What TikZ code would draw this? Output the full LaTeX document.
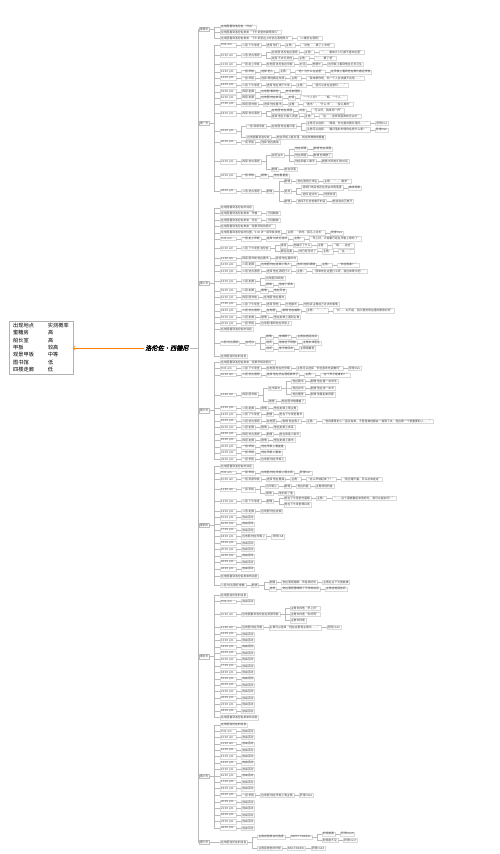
\documentclass[tikz,border=0pt]{standalone}
\usepackage{fontspec}
\setmainfont{Noto Sans CJK SC}
\newfontfamily\rootfont[FakeBold=2,FakeSlant=0.2]{Noto Sans CJK SC}
\usetikzlibrary{positioning, arrows.meta}

\tikzset{
  leaf/.style={draw=gray!30, line width=0.2pt, inner xsep=1pt, inner ysep=0.8pt,
    text=black!75, font=\fontsize{2.8}{3.2}\selectfont},
  tm/.style={leaf, text width=14pt},
  day/.style={leaf, draw=gray!50, anchor=west},
  link/.style={draw=gray!55, line width=0.25pt},
  hint/.style={draw=orange, line width=0.4pt, -{Straight Barb[length=2pt]}},
}

% chain of nodes after #1-0
\newcommand\more[2]{%
  \foreach \txt [count=\cc, remember=\cc as \pp (initially 0)] in {#2}{%
    \node[leaf, right=5pt of #1-\pp] (#1-\cc) {\txt};
    \draw[link] (#1-\pp) -- (#1-\cc);}}
% time row: day, name, y, time, rest
\newcommand\slot[5]{%
  \node[tm, anchor=west] (#2-0) at (220,#3) {#4};
  \more{#2}{#5}
  \draw[link] (#1.east) -- ++(4.5pt,0) |- (#2-0.west);}
% plain row: day, name, y, text
\newcommand\note[4]{%
  \node[leaf, anchor=west] (#2-0) at (220,#3) {#4};
  \draw[link] (#1.east) -- ++(4.5pt,0) |- (#2-0.west);}
% branch: parent, name, y, text
\newcommand\fork[4]{%
  \coordinate (fk) at ([xshift=10pt]#1.east);
  \node[leaf, anchor=west] (#2-0) at (fk |- 0,#3) {#4};
  \draw[link] (#1.east) -- ++(5pt,0) |- (#2-0.west);}

\begin{document}
\begin{tikzpicture}[x=1pt, y=-1pt]
  \fill[white] (0,0) rectangle (500,854);
  \useasboundingbox (0,0) rectangle (500,854);
  % centre and table
  \node[font=\rootfont\fontsize{6.2}{7}\selectfont, inner sep=1pt] (root) at (167,348) {洛伦佐·西德尼};
  \node[draw=gray!60, line width=0.3pt, inner xsep=4pt, inner ysep=1pt,
    font=\fontsize{5.2}{7.3}\selectfont] (tbl) at (41,348)
    {\begin{tabular}{@{}l@{\hspace{14pt}}l@{}}
      出现地点 & 实测概率\\ 蜜糖房 & 高\\ 船长室 & 高\\ 甲板 & 较高\\
      观景甲板 & 中等\\ 图书馆 & 低\\ 四楼走廊 & 低
    \end{tabular}};
  \draw[hint] (root.west) -- (tbl.east);
  % days
  \node[day] (d0) at (199,29.3) {第零天};
  \node[day] (d1) at (199,123) {第一天};
  \node[day] (d2) at (199,283) {第二天};
  \node[day] (d3) at (199,410.5) {第三天};
  \node[day] (d4) at (199,525) {第四天};
  \node[day] (d5) at (199,656.5) {第五天};
  \node[day] (d6) at (199,776.3) {第六天};
  \node[day] (d7) at (199,842) {第七天};
  \foreach \d in {d0,d1,d2,d3,d4,d5,d6,d7}
    \draw[link] (root.east) -- ++(8pt,0) |- (\d.west);

  % day 0
  \note{d0}{r0a}{26.7}{在地图看到洛伦佐“日出”}
  \note{d0}{r0b}{32.3}{在地图看到洛伦佐发来“下午茶室的钢琴照片”}
  \note{d0}{r0c}{38.3}{在地图看到洛伦佐发来“下午茶室边上的仿古酒吧照片”}
  \more{r0c}{（二楼仿古酒吧）}

  % day 1
  \slot{d1}{r1a}{45}{9:00 am}{二层 下午茶室, 选择 他们, 主角：, “对他……算了上去吧”}
  \slot{d1}{r1b}{55.3}{10:00 am}{二层 仿古酒吧}
  \fork{r1b-1}{r1b1}{52.3}{在地图 洛伦佐在酒吧}
  \more{r1b1}{主角：, “……看来大人们都不喜欢这里”}
  \fork{r1b-1}{r1b2}{58.3}{选择 不去打扰他}
  \more{r1b2}{主角：, “……算了吧”}
  \slot{d1}{r1c}{64.3}{11:00 am}{一层 走上甲板, 在地图 洛伦佐在甲板, 对话, 他很忙, 在甲板上看到他在打扫卫生}
  \slot{d1}{r1d}{71.7}{12:00 pm}{一层 甲板, 选择 他人, 主角：, “他？为什么在这里”, 在甲板上看到他在帮忙搬运货物}
  \slot{d1}{r1e}{78.3}{13:00 pm}{一层 甲板, 选择 帮他搬运东西, 主角：, “我来帮你吧，你一个人应该搬不完吧……”}
  \slot{d1}{r1f}{85}{14:00 pm}{二层 下午茶室, 选择 他在喝下午茶, 主角：, “我可以坐在这里吗……”}
  \slot{d1}{r1g}{91.7}{15:00 pm}{四层 走廊, 在地图 看到他, 他没有理我}
  \slot{d1}{r1h}{97.7}{16:00 pm}{四层 走廊, 在地图 他在发呆, 对话, “一个人吗？”，“嗯，一个人。”}
  \slot{d1}{r1i}{104}{17:00 pm}{四层 图书馆, 选择 他在看书, 主角：, “看书”，“什么书”，“我认真的”}
  \slot{d1}{r1j}{113.5}{18:00 pm}{四层 仿古酒吧}
  \fork{r1j-1}{r1j1}{110.7}{在地图 他在调酒}
  \more{r1j1}{对话, “可以吗，我来调一杯”}
  \fork{r1j-1}{r1j2}{116.3}{选择 他在为客人调酒}
  \more{r1j2}{主角：, “这……这样调酒真的可以吗”}
  \node[tm, anchor=west] (r1k-0) at (220,131.3) {19:00 pm};
  \draw[link] (d1.east) -- ++(4.5pt,0) |- (r1k-0.west);
  \fork{r1k-0}{r1k1}{126}{一层 观景甲板}
  \more{r1k1}{在地图 他在看日落}
  \fork{r1k1-1}{r1k1a}{123}{主角可以选择：“嗯嗯，你也喜欢看日落吗……”}
  \more{r1k1a}{获得CG1}
  \fork{r1k1-1}{r1k1b}{129.7}{主角可以选择：“看日落的时候你在想什么呢？”}
  \more{r1k1b}{获得CG2}
  \fork{r1k-0}{r1k2}{137}{在地图看到洛伦佐}
  \more{r1k2}{他在甲板上看日落，就这样静静地看着}
  \slot{d1}{r1l}{142.3}{20:00 pm}{一层 甲板, 选择 他在看海}
  \slot{d1}{r1m}{161.5}{21:00 pm}{四层 仿古酒吧}
  \fork{r1m-1}{r1m1}{155}{在吧台中}
  \fork{r1m1-0}{r1m1a}{148.7}{他在调酒}
  \more{r1m1a}{剧情 他在调酒}
  \fork{r1m1-0}{r1m1b}{155.3}{他在喝酒}
  \more{r1m1b}{剧情 他喝醉了}
  \fork{r1m1-0}{r1m1c}{161.5}{他在和客人聊天}
  \more{r1m1c}{剧情 听到他们的对话}
  \fork{r1m-1}{r1m2}{169}{剧情}
  \more{r1m2}{他在调酒}
  \slot{d1}{r1n}{175.7}{22:00 pm}{一层 甲板, 剧情, 他在看星星}
  \slot{d1}{r1o}{191}{24:00 pm}{二层 仿古酒吧, 剧情}
  \fork{r1o-2}{r1o1}{181}{剧情}
  \more{r1o1}{他在酒吧打烊后, 主角：“……晚安”}
  \fork{r1o-2}{r1o2}{191}{选项}
  \fork{r1o2-0}{r1o2a}{187.7}{酒吧打烊后他还在吧台的角落里}
  \more{r1o2a}{继续观察}
  \fork{r1o2-0}{r1o2b}{194.3}{选择 走过去}
  \more{r1o2b}{他很惊讶}
  \fork{r1o-2}{r1o3}{201}{剧情}
  \more{r1o3}{选择不打扰他离开的话, 他就会自己离开}

  % day 2
  \note{d2}{r2a}{207.7}{在地图看到洛伦佐的消息}
  \note{d2}{r2b}{213.3}{在地图看到洛伦佐发来“早餐”}
  \more{r2b}{已经解锁}
  \note{d2}{r2c}{220}{在地图看到洛伦佐发来“日出”}
  \more{r2c}{已经解锁}
  \note{d2}{r2d}{226}{在地图看到洛伦佐发来“观景甲板的照片”}
  \note{d2}{r2e}{232.7}{在地图看到洛伦佐的位置，9:00 去一层甲板找他}
  \more{r2e}{主角：“好的，我马上过去”, 获得CG4}
  \slot{d2}{r2f}{238.7}{9:20 am}{一层 走上甲板, 选择 过去打招呼, 主角：, “早上好，大家都已经在甲板上等你了”}
  \slot{d2}{r2g}{248.3}{10:00 am}{二层 下午茶室 洛伦佐}
  \fork{r2g-1}{r2g1}{245.5}{接受}
  \more{r2g1}{他暗示了什么, 主角：, “哦……这些”}
  \fork{r2g-1}{r2g2}{251.5}{跟在后面}
  \more{r2g2}{他已经写好了, 主角：, “这……”}
  \slot{d2}{r2h}{258.5}{11:00 am}{四层 图书馆 他在看书, 选择 他在看的书}
  \slot{d2}{r2i}{264.7}{12:00 pm}{二层 走廊, 在地图 他在走廊上等人, 选项 选择 跟随, 主角：, “你在等谁？”}
  \slot{d2}{r2j}{271.3}{13:00 pm}{二层 仿古酒吧, 选择 他在酒吧打工, 主角：, “原来你在这里打工呀，我也来帮忙吧！”}
  \slot{d2}{r2k}{281.3}{14:00 pm}{二层 走廊}
  \fork{r2k-1}{r2k1}{278}{在地图 找到他}
  \fork{r2k-1}{r2k2}{284.7}{剧情}
  \more{r2k2}{他给了纸条}
  \slot{d2}{r2l}{290.7}{15:00 pm}{二层 走廊, 剧情, 他在写信}
  \slot{d2}{r2m}{297.3}{16:00 pm}{四层 图书馆, 在地图 他在看书}
  \slot{d2}{r2n}{304}{17:00 pm}{二层 下午茶室, 选择 帮他, 与他聊天, 他告诉主角自己过去的事情}
  \slot{d2}{r2o}{310.7}{18:00 pm}{二层 仿古酒吧, 在地图, 剧情 他在唱歌, 主角：“……”, “对……对不起，我只是觉得这里的歌很好听”}
  \slot{d2}{r2p}{317.3}{19:00 pm}{二层 走廊, 剧情, 他在走廊上遇到主角}
  \slot{d2}{r2q}{323.3}{20:00 pm}{一层 甲板, 在地图 看到他在甲板上}
  \note{d2}{r2r}{329.3}{在地图看到洛伦佐的消息}
  \note{d2}{r2s}{342.7}{二层 仿古酒吧}
  \more{r2s}{在吧台}
  \fork{r2s-1}{r2s1}{336.7}{剧情}
  \more{r2s1}{他喝醉了, 主角扶他回房间}
  \fork{r2s-1}{r2s2}{342.7}{选项}
  \more{r2s2}{他有些不舒服, 主角去找医生}
  \fork{r2s-1}{r2s3}{348.7}{选项}
  \more{r2s3}{他不想回去, 主角陪着他}
  \note{d2}{r2t}{356}{在地图洛伦佐的消息}

  % day 3
  \note{d3}{r3a}{362}{在地图看到洛伦佐发来“观景甲板的照片”}
  \slot{d3}{r3b}{368}{9:00 am}{二层 下午茶室, 在地图 他在吃早餐, 主角可以选择“你也喜欢吃甜食吗”, 获得CG6}
  \slot{d3}{r3c}{374.7}{10:00 am}{二层 仿古酒吧, 选择 他在仿古酒吧擦杯子, 主角：, “这个杯子是谁的？”}
  \slot{d3}{r3d}{394.7}{11:00 am}{四层 图书馆}
  \fork{r3d-1}{r3d1}{388}{在书架中}
  \fork{r3d1-0}{r3d1a}{381.5}{他在看书}
  \more{r3d1a}{剧情 他在看一本旧书}
  \fork{r3d1-0}{r3d1b}{388}{他在找书}
  \more{r3d1b}{剧情 他在找一本书}
  \fork{r3d1-0}{r3d1c}{394.5}{他在睡觉}
  \more{r3d1c}{剧情 他看起来很累}
  \fork{r3d-1}{r3d2}{401}{剧情}
  \more{r3d2}{他在图书馆睡着了}
  \slot{d3}{r3e}{408}{13:00 pm}{二层 走廊, 剧情, 他在走廊上等主角}
  \slot{d3}{r3f}{414.5}{14:00 pm}{二层 下午茶室, 剧情, 他在下午茶室看书}
  \slot{d3}{r3g}{421}{15:00 pm}{二层 仿古酒吧, 在地图, 剧情 他在等人, 主角：, “他说要等的人一直没有来，不管是谁他都会一直等下去，他在等一个很重要的人……”}
  \slot{d3}{r3h}{427.3}{16:00 pm}{二层 走廊, 剧情, 他在走廊上发呆}
  \slot{d3}{r3i}{434}{18:00 pm}{四层 仿古酒吧, 剧情, 他在和客人聊天}
  \slot{d3}{r3j}{440}{19:00 pm}{四层 走廊, 剧情, 他在走廊上看书}
  \slot{d3}{r3k}{446.7}{20:00 pm}{一层 甲板, 他在甲板上看星星}
  \slot{d3}{r3l}{452.7}{21:00 pm}{一层 甲板, 他在甲板上看海}
  \slot{d3}{r3m}{459.3}{24:00 pm}{一层 甲板, 在地图 他在甲板上}

  % day 4
  \note{d4}{r4a}{466}{在地图看到洛伦佐的消息}
  \slot{d4}{r4b}{472.7}{9:00 am}{一层 甲板, 在地图 他在甲板上晒太阳, 获得CG7}
  \slot{d4}{r4c}{479.3}{10:00 am}{一层 观景甲板, 选择 他在看海, 主角：, “这么早就起来了？”, “我也睡不着，所以出来走走”}
  \slot{d4}{r4d}{489.5}{11:00 am}{一层 甲板}
  \fork{r4d-1}{r4d1}{486}{在甲板上}
  \more{r4d1}{剧情, 他在钓鱼, 主角陪他钓鱼}
  \fork{r4d-1}{r4d2}{493}{剧情}
  \more{r4d2}{他钓到了鱼}
  \slot{d4}{r4e}{501.3}{13:00 pm}{二层 下午茶室, 剧情}
  \fork{r4e-2}{r4e1}{498}{他在下午茶室吃蛋糕}
  \more{r4e1}{主角：, “……这个蛋糕看起来很好吃，我可以尝尝吗？”}
  \fork{r4e-2}{r4e2}{504.5}{他在下午茶室喝红茶}
  \slot{d4}{r4f}{511.3}{14:00 pm}{二层 走廊, 在地图 他在走廊}
  \foreach \hr/\yy [count=\n] in {15:00 pm/517.5, 16:00 pm/523.8, 17:00 pm/530.2}
    {\slot{d4}{r4g\n}{\yy}{\hr}{自由活动}}
  \slot{d4}{r4h}{536.6}{18:00 pm}{在地图 他在甲板上, 获得CG8}
  \foreach \hr/\yy [count=\n] in {19:00 pm/543, 20:00 pm/549.5, 21:00 pm/555.8, 22:00 pm/562.2, 24:00 pm/568.8}
    {\slot{d4}{r4i\n}{\yy}{\hr}{自由活动}}
  \note{d4}{r4j}{576}{在地图看到洛伦佐发来的消息}
  \note{d4}{r4k}{585.3}{二层 仿古酒吧 夜晚}
  \more{r4k}{剧情}
  \fork{r4k-1}{r4k1}{582}{剧情}
  \more{r4k1}{他在酒吧唱歌，声音很好听, 主角在台下为他鼓掌}
  \fork{r4k-1}{r4k2}{588.7}{选项}
  \more{r4k2}{他在酒吧里喝醉了不停地说话, 主角送他回房间}

  % day 5
  \note{d5}{r5a}{595.3}{在地图洛伦佐的消息}
  \slot{d5}{r5b}{601.5}{9:00 am}{自由活动}
  \slot{d5}{r5c}{614.3}{10:00 am}{在地图看到洛伦佐在观景甲板}
  \fork{r5c-1}{r5c1}{608}{主角去找他“早上好”}
  \fork{r5c-1}{r5c2}{614.3}{主角去找他“你好啊”}
  \fork{r5c-1}{r5c3}{620.6}{主角去找他}
  \slot{d5}{r5d}{627.5}{11:00 am}{在地图 他在甲板, 主角可以选择“他在这里等主角吗……”, 获得CG10}
  \foreach \hr/\yy [count=\n] in {12:00 pm/634, 13:00 pm/640.4, 14:00 pm/646.8, 15:00 pm/653.2, 16:00 pm/659.6, 17:00 pm/666, 18:00 pm/672.4, 19:00 pm/678.8, 20:00 pm/685.2, 21:00 pm/691.6, 22:00 pm/698, 23:00 pm/704.5, 24:00 pm/711}
    {\slot{d5}{r5e\n}{\yy}{\hr}{自由活动}}
  \note{d5}{r5z}{717.5}{在地图看到洛伦佐发来的消息}

  % day 6
  \note{d6}{r6a}{724.7}{在地图洛伦佐的消息}
  \foreach \hr/\yy [count=\n] in {9:00 am/731, 10:00 am/737.3, 11:00 am/743.7, 12:00 pm/750.1, 13:00 pm/756.5, 14:00 pm/762.9, 15:00 pm/769.3, 16:00 pm/775.7, 17:00 pm/782.1, 18:00 pm/788.5}
    {\slot{d6}{r6b\n}{\yy}{\hr}{自由活动}}
  \slot{d6}{r6c}{795}{19:00 pm}{一层 甲板, 在地图 他在甲板上等主角, 获得CG16}
  \foreach \hr/\yy [count=\n] in {20:00 pm/802, 21:00 pm/808.6, 22:00 pm/815.2, 23:00 pm/821.6, 24:00 pm/828}
    {\slot{d6}{r6d\n}{\yy}{\hr}{自由活动}}

  % day 7
  \note{d7}{r7a}{842}{在地图洛伦佐的消息}
  \fork{r7a-0}{r7b}{836.8}{主角向他表白时选择}
  \more{r7b}{HAPPY ENDING}
  \fork{r7b-1}{r7b1}{833.8}{好感度满}
  \more{r7b1}{获得CG19}
  \fork{r7b-1}{r7b2}{840.3}{好感度不足}
  \more{r7b2}{获得CG17}
  \fork{r7a-0}{r7c}{848}{主角拒绝他的时候}
  \more{r7c}{BAD ENDING, 获得CG18}
\end{tikzpicture}
\end{document}
